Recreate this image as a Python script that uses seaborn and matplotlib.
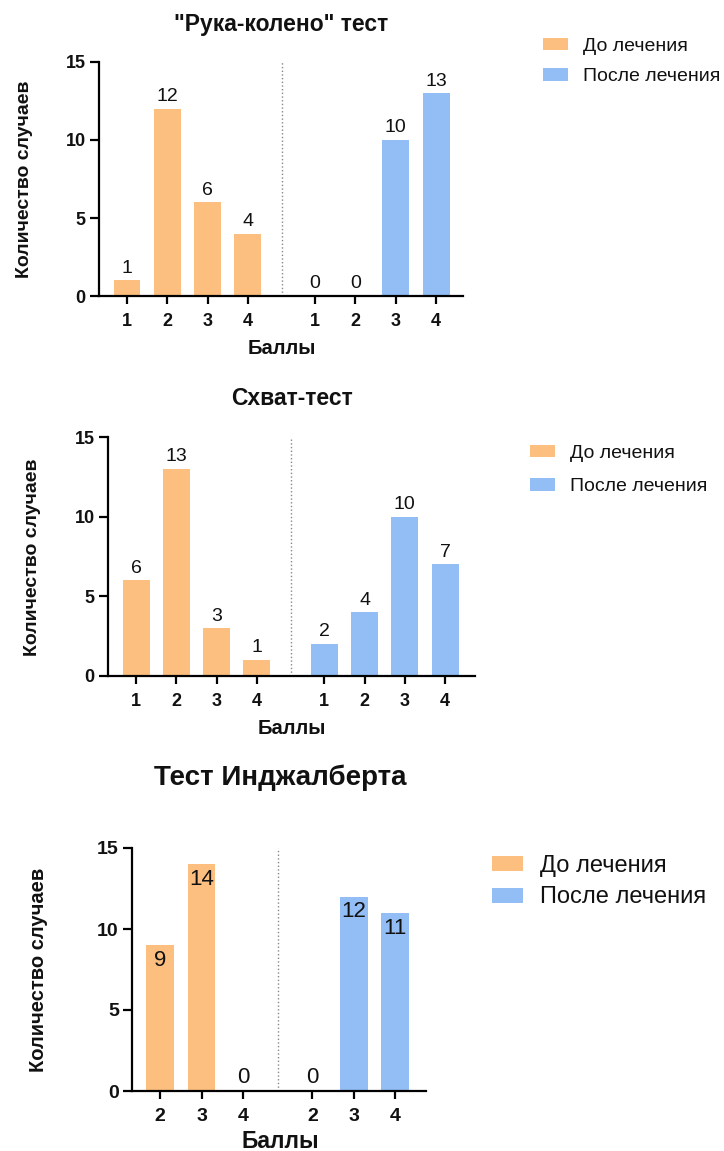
import numpy as np
import pandas as pd
import seaborn as sns
import matplotlib
matplotlib.use("Agg")
import matplotlib.pyplot as plt

# values
groups = ["До лечения", "После лечения"]
colors = ["#FDBF7F", "#92BEF5"]

scores_hand_knee = ["1", "2", "3", "4"]
before_hand_knee = [1, 12, 6, 4]
after_hand_knee = [0, 0, 10, 13]

scores_grip = ["1", "2", "3", "4"]
before_grip = [6, 13, 3, 1]
after_grip = [2, 4, 10, 7]

scores_ingalbert = ["2", "3", "4"]
before_ingalbert = [9, 14, 0]
after_ingalbert = [0, 12, 11]

titles = ['"Рука-колено" тест', "Схват-тест", "Тест Инджалберта"]
ylabel = "Количество случаев"
xlabel = "Баллы"

W, H = 724, 1151
GAP = 0.67


def px_rect(left, top, right, bottom):
    return [left / W, 1 - bottom / H, (right - left) / W, (bottom - top) / H]


def draw_panel(fig, rect, xlim, scores, before, after, title, title_xy, title_size,
               ylabel_xy, xlabel_xy, label_size, xlabel_size, value_size, tick_size,
               legend_xy, legend_size, handle_len, spacing, inside=False):
    ax = fig.add_axes(px_rect(*rect))
    n = len(scores)
    pos_before = np.arange(n)
    pos_after = np.arange(n) + n + GAP
    df = pd.DataFrame({
        "pos": np.concatenate([pos_before, pos_after]),
        "count": before + after,
        "group": [groups[0]] * n + [groups[1]] * n,
    })
    sns.barplot(data=df, x="pos", y="count", hue="group", hue_order=groups,
                palette=colors, native_scale=True, dodge=False, width=0.67,
                linewidth=0, saturation=1, ax=ax)

    ax.set_xlim(*xlim)
    ax.set_ylim(0, 15)
    ax.set_xticks(df["pos"], scores + scores)
    ax.set_yticks([0, 5, 10, 15])
    for lbl in ax.get_xticklabels() + ax.get_yticklabels():
        lbl.set_fontweight("bold")
        lbl.set_fontsize(tick_size)
    ax.tick_params(axis="x", direction="out", length=6, width=1.6, pad=6.5, color="black")
    ax.tick_params(axis="y", direction="out", length=6.5, width=1.6, pad=3, color="black")
    ax.set_xlabel("")
    ax.set_ylabel("")
    sns.despine(ax=ax)
    for side in ["left", "bottom"]:
        ax.spines[side].set_linewidth(1.6)
        ax.spines[side].set_color("black")

    ax.axvline((n - 1 + n + GAP) / 2, color="#888888", linestyle=":", linewidth=1)

    for container in ax.containers:
        for bar in container:
            h = bar.get_height()
            x = bar.get_x() + bar.get_width() / 2
            if inside and h > 0:
                ax.annotate(f"{h:.0f}", (x, h), xytext=(0, -3.5), textcoords="offset points",
                            ha="center", va="top", fontsize=value_size, color="#111111")
            else:
                ax.annotate(f"{h:.0f}", (x, h), xytext=(0, 5.5), textcoords="offset points",
                            ha="center", va="baseline", fontsize=value_size, color="#111111")

    leg = ax.get_legend()
    handles = leg.legend_handles
    labels = [t.get_text() for t in leg.get_texts()]
    ax.legend(handles, labels, loc="center left",
              bbox_to_anchor=(legend_xy[0] / W, 1 - legend_xy[1] / H),
              bbox_transform=fig.transFigure, frameon=False, fontsize=legend_size,
              handlelength=handle_len, handleheight=0.6, handletextpad=0.75,
              labelspacing=spacing, borderpad=0, borderaxespad=0)

    fig.text(title_xy[0] / W, 1 - title_xy[1] / H, title, ha="center", va="center",
             fontsize=title_size, fontweight="bold")
    fig.text(ylabel_xy[0] / W, 1 - ylabel_xy[1] / H, ylabel, ha="center", va="center",
             rotation=90, fontsize=label_size, fontweight="bold")
    fig.text(xlabel_xy[0] / W, 1 - xlabel_xy[1] / H, xlabel, ha="center", va="center",
             fontsize=xlabel_size, fontweight="bold")
    return ax


sns.set_theme(style="ticks")
plt.rcParams["font.family"] = ["Liberation Sans", "DejaVu Sans"]
plt.rcParams["text.color"] = "#111111"
plt.rcParams["xtick.labelcolor"] = "#111111"
plt.rcParams["ytick.labelcolor"] = "#111111"

fig = plt.figure(figsize=(W / 100, H / 100), dpi=100)

draw_panel(fig, (99, 62, 463, 296), (-0.695, 8.34),
           scores_hand_knee, before_hand_knee, after_hand_knee, titles[0],
           (281, 25), 16.5, (25, 179), (282, 348), 14, 14.5, 14, 13,
           (543, 61.5), 14, 1.3, 0.7)

draw_panel(fig, (108, 437, 475, 676), (-0.695, 8.41),
           scores_grip, before_grip, after_grip, titles[1],
           (292, 398), 16.5, (33, 557), (292, 728), 14, 14.5, 14, 13,
           (530, 470), 14, 1.3, 0.85)

draw_panel(fig, (132, 848, 426, 1091), (-0.675, 6.41),
           scores_ingalbert, before_ingalbert, after_ingalbert, titles[2],
           (280, 778), 20, (39, 970), (280, 1141), 14.5, 16.5, 16, 14,
           (492, 881.5), 17, 1.3, 0.42, inside=True)

fig.savefig("out.png", dpi=100, facecolor="white")
